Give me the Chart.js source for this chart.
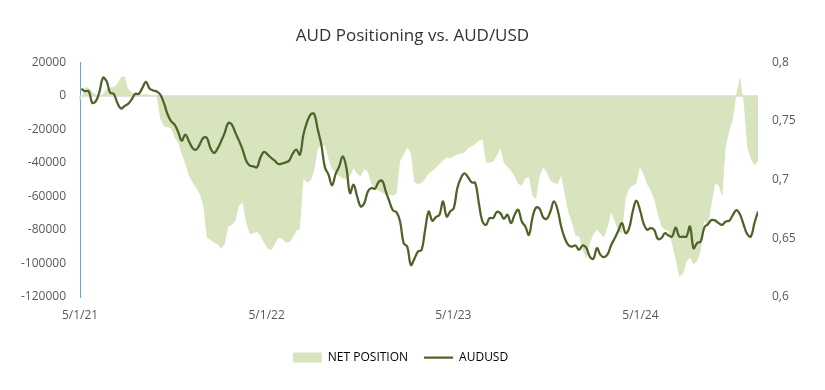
<!DOCTYPE html>
<html>
<head>
<meta charset="utf-8">
<title>AUD Positioning vs. AUD/USD</title>
<script src="https://cdn.jsdelivr.net/npm/chart.js@4.4.1/dist/chart.umd.min.js"></script>
<style>
  html, body { margin: 0; padding: 0; background: #fff; }
</style>
</head>
<body>
<canvas id="audChart" width="825" height="390"></canvas>
<script>
// weekly CFTC net position (contracts), first report 4 May 2021
const netPosition = [
  -2750, 5200, 4800, 2600, 600, -800, 1200, 4200, 5200, 5200,
  7200, 11200, 11800, 4200, 2200, 1200, 800, 800, 1200, 600,
  600, -200, -13700, -18300, -18700, -19300, -24700, -28100, -34700, -40600,
  -47600, -51600, -54600, -58600, -65600, -84500, -85900, -87500, -88500, -91100,
  -88500, -77900, -77100, -74500, -65500, -63500, -75500, -82500, -81900, -81100,
  -83500, -87500, -91000, -91900, -88500, -84500, -85100, -87500, -87500, -84700,
  -80500, -79500, -49600, -51600, -50600, -44600, -31600, -29300, -29900, -37600,
  -43600, -46000, -48000, -49200, -49600, -48000, -43200, -46600, -48000, -43600,
  -45600, -52600, -55200, -56600, -57600, -59100, -58800, -59600, -58600, -39200,
  -35200, -30700, -34000, -51600, -52600, -52000, -49600, -46200, -44800, -42800,
  -40800, -38600, -36600, -37400, -36000, -35000, -34300, -33700, -31300, -30100,
  -28700, -26700, -25700, -39600, -40000, -39200, -36000, -31300, -40000, -42400,
  -44600, -48000, -52600, -53600, -49200, -48600, -59600, -61500, -47600, -42800,
  -45600, -50600, -52000, -52600, -47600, -58600, -69500, -75500, -83500, -83900,
  -92000, -97000, -88000, -82500, -79900, -82100, -84500, -77900, -69500, -74900,
  -80900, -82100, -61500, -55200, -53600, -52200, -42600, -46600, -52600, -56600,
  -61500, -70500, -77900, -79900, -80500, -88500, -97800, -107800, -106400, -99000,
  -96500, -100400, -98400, -92500, -74500, -78500, -64500, -52600, -53200, -60000,
  -30000, -21000, -14000, 2000, 11500, -4000, -31000, -37500, -41500, -39000
];

// AUD/USD on the same weeks
const audUsd = [
  0.7775, 0.7755, 0.7755, 0.7655, 0.7669, 0.7749, 0.7869, 0.7840, 0.7741, 0.7732,
  0.7655, 0.7607, 0.7627, 0.7647, 0.7684, 0.7732, 0.7732, 0.7783, 0.7835, 0.7778,
  0.7761, 0.7752, 0.7726, 0.7655, 0.7561, 0.7499, 0.7470, 0.7407, 0.7333, 0.7385,
  0.7328, 0.7271, 0.7256, 0.7299, 0.7356, 0.7356, 0.7271, 0.7228, 0.7265, 0.7328,
  0.7399, 0.7484, 0.7470, 0.7399, 0.7333, 0.7256, 0.7162, 0.7120, 0.7114, 0.7105,
  0.7191, 0.7237, 0.7214, 0.7185, 0.7162, 0.7134, 0.7137, 0.7148, 0.7162, 0.7222,
  0.7256, 0.7214, 0.7385, 0.7490, 0.7556, 0.7561, 0.7427, 0.7299, 0.7105, 0.7043,
  0.6952, 0.7049, 0.7114, 0.7199, 0.7100, 0.6886, 0.6957, 0.6857, 0.6772, 0.6800,
  0.6900, 0.6929, 0.6923, 0.6980, 0.6991, 0.6900, 0.6815, 0.6738, 0.6724, 0.6644,
  0.6459, 0.6430, 0.6274, 0.6325, 0.6388, 0.6400, 0.6573, 0.6729, 0.6650, 0.6681,
  0.6701, 0.6815, 0.6686, 0.6729, 0.6758, 0.6929, 0.7015, 0.7054, 0.7021, 0.6977,
  0.6972, 0.6801, 0.6644, 0.6615, 0.6673, 0.6673, 0.6724, 0.6715, 0.6667, 0.6701,
  0.6630, 0.6701, 0.6744, 0.6644, 0.6601, 0.6530, 0.6678, 0.6763, 0.6752, 0.6678,
  0.6667, 0.6729, 0.6815, 0.6744, 0.6601, 0.6502, 0.6444, 0.6430, 0.6439, 0.6402,
  0.6439, 0.6421, 0.6345, 0.6325, 0.6416, 0.6359, 0.6339, 0.6365, 0.6444, 0.6502,
  0.6567, 0.6630, 0.6544, 0.6587, 0.6729, 0.6821, 0.6744, 0.6630, 0.6573, 0.6587,
  0.6573, 0.6496, 0.6502, 0.6544, 0.6524, 0.6515, 0.6592, 0.6515, 0.6515, 0.6515,
  0.6601, 0.6416, 0.6459, 0.6473, 0.6592, 0.6621, 0.6656, 0.6653, 0.6630, 0.6615,
  0.6644, 0.6650, 0.6701, 0.6741, 0.6701, 0.6615, 0.6535, 0.6515, 0.6630, 0.6729
];

const tickLabels = ['5/1/21', '5/1/22', '5/1/23', '5/1/24'];
const tickDates = [Date.UTC(2021, 4, 1), Date.UTC(2022, 4, 1), Date.UTC(2023, 4, 1), Date.UTC(2024, 4, 1)];
const firstReport = Date.UTC(2021, 4, 4);

const DAY = 86400000;
const axisStart = tickDates[0];
const tickDays = tickDates.map(d => (d - axisStart) / DAY);
const reportDays = netPosition.map((_, i) => (firstReport - axisStart) / DAY + 7 * i);

const areaColor = '#d7e4bd';
const lineColor = '#4f6228';
const labelColor = '#595959';

Chart.defaults.font.family = "'Open Sans', sans-serif";

// horizontal axis crosses at 0: grey line over the area, under the fx line
const zeroAxisLine = {
  id: 'zeroAxisLine',
  afterDatasetDraw(chart, args) {
    if (args.index !== 0) return;
    const {ctx, chartArea, scales} = chart;
    const y0 = scales.y.getPixelForValue(0);
    ctx.save();
    ctx.strokeStyle = '#d9d9d9';
    ctx.lineWidth = 1.5;
    ctx.beginPath();
    ctx.moveTo(chartArea.left, y0);
    ctx.lineTo(chartArea.right, y0);
    tickDays.forEach(d => {
      const x = scales.x.getPixelForValue(d);
      ctx.moveTo(x, y0);
      ctx.lineTo(x, y0 + 4);
    });
    ctx.stroke();
    ctx.restore();
  }
};

// the legend sits a little left of the page centre in the original
const legendNudge = {
  id: 'legendNudge',
  afterLayout(chart) {
    chart.legend.left -= 12;
    chart.legend.right -= 12;
  }
};

const ctx = document.getElementById('audChart');

new Chart(ctx, {
  type: 'line',
  data: {
    datasets: [{
      label: 'NET POSITION',
      data: reportDays.map((d, i) => ({x: d, y: netPosition[i]})),
      yAxisID: 'y',
      backgroundColor: areaColor,
      borderColor: 'transparent',
      borderWidth: 0,
      fill: 'origin',
      pointRadius: 0,
      tension: 0,
      order: 1
    }, {
      label: 'AUDUSD',
      data: reportDays.map((d, i) => ({x: d, y: audUsd[i]})),
      yAxisID: 'y1',
      borderColor: lineColor,
      backgroundColor: lineColor,
      borderWidth: 2.25,
      fill: false,
      pointRadius: 0,
      tension: 0.4,
      order: 0
    }]
  },
  options: {
    responsive: false,
    animation: false,
    layout: { padding: { top: 0, left: 0, right: 0, bottom: 16.5 } },
    plugins: {
      title: {
        display: true,
        text: 'AUD Positioning vs. AUD/USD',
        color: '#333333',
        font: { size: 17, weight: 'normal' },
        padding: { top: 26, bottom: 16 }
      },
      legend: {
        position: 'bottom',
        labels: {
          usePointStyle: true,
          pointStyleWidth: 29,
          boxHeight: 10,
          padding: 16,
          color: labelColor,
          font: { size: 12 },
          generateLabels: chart => chart.data.datasets.map((ds, i) => ({
            text: ds.label,
            fillStyle: i === 0 ? areaColor : lineColor,
            strokeStyle: i === 0 ? areaColor : lineColor,
            lineWidth: i === 0 ? 0 : 2.25,
            pointStyle: i === 0 ? 'rect' : 'line',
            datasetIndex: i,
            hidden: false
          }))
        }
      },
      tooltip: { enabled: false }
    },
    scales: {
      x: {
        type: 'linear',
        min: 0,
        max: reportDays[reportDays.length - 1],
        grid: { display: false, drawTicks: false },
        border: { display: false },
        afterBuildTicks: scale => { scale.ticks = tickDays.map(v => ({value: v})); },
        afterFit: scale => { scale.height = 38.5; },
        ticks: {
          autoSkip: false,
          maxRotation: 0,
          padding: 11,
          color: labelColor,
          font: { size: 12 },
          callback: (v, i) => tickLabels[i]
        }
      },
      y: {
        position: 'left',
        min: -120000,
        max: 20000,
        grid: { display: false, drawTicks: false },
        border: { display: true, color: '#62a9cc', width: 1 },
        afterFit: scale => { scale.width = 80; },
        ticks: {
          stepSize: 20000,
          padding: 14,
          color: labelColor,
          font: { size: 12 },
          callback: v => String(v)
        }
      },
      y1: {
        position: 'right',
        min: 0.6,
        max: 0.8,
        grid: { display: false, drawTicks: false },
        border: { display: false },
        afterFit: scale => { scale.width = 67; },
        ticks: {
          stepSize: 0.05,
          padding: 14,
          color: labelColor,
          font: { size: 12 },
          callback: v => Number(v.toFixed(2)).toString().replace('.', ',')
        }
      }
    }
  },
  plugins: [zeroAxisLine, legendNudge]
});
</script>
</body>
</html>
